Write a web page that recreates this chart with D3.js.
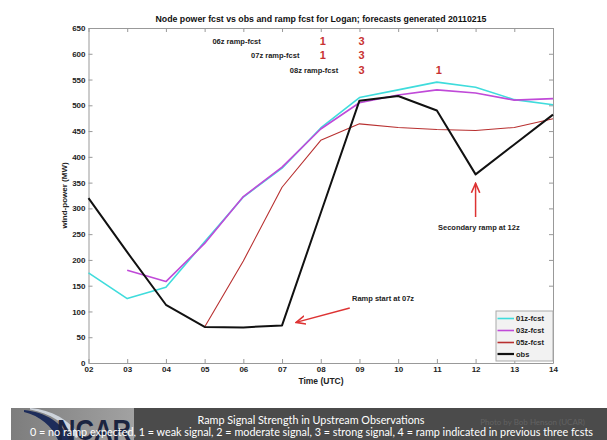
<!DOCTYPE html>
<html>
<head>
<meta charset="utf-8">
<script src="https://cdn.jsdelivr.net/npm/d3@7"></script>
<style>
  body { margin: 0; background: #fff; }
  svg text { font-family: "Liberation Sans", Arial, sans-serif; }
</style>
</head>
<body>
<div id="chart"></div>
<script>
// hours on the x axis and what the reference prints for them
const hours = [2, 3, 4, 5, 6, 7, 8, 9, 10, 11, 12, 13, 14];
const hourLabels = ["02", "03", "04", "05", "06", "07", "08", "09", "10", "11", "12", "13", "14"];
const yTicks = [0, 50, 100, 150, 200, 250, 300, 350, 400, 450, 500, 550, 600, 650];

// series (MW)
const fcst01 = [175, 125, 147, 235, 322, 378, 456, 515, 530, 545, 535, 511, 501];
const fcst03 = [null, 180, 158, 232, 323, 380, 454, 505, 520, 530, 524, 510, 513];
const fcst05 = [null, null, null, 70, 198, 341, 432, 464, 457, 453, 451, 457, 474];
const obs = [320, 215, 113, 70, 69, 73, 291, 509, 518, 490, 366, 424, 482];

const seriesNames = ["01z-fcst", "03z-fcst", "05z-fcst", "obs"];
const seriesColors = ["#3fdcdc", "#c04ad8", "#b83030", "#111111"];
const seriesWidths = [1.6, 1.6, 1.1, 2];

// ramp forecasts: issue hour, and the signal strength shown above some hours
const rampLabels = ["06z ramp-fcst", "07z ramp-fcst", "08z ramp-fcst"];
const rampIssue = [6, 7, 8];
const rampHours = [[8, 9], [8, 9], [9, 11]];
const rampValues = [[1, 3], [1, 3], [3, 1]];

const width = 607, height = 440;

const svg = d3.select("#chart").append("svg")
    .attr("width", width)
    .attr("height", height);

const x = d3.scaleLinear().domain([2, 14]).range([88.5, 553]);
const y = d3.scaleLinear().domain([0, 650]).range([363, 28]);

// title
svg.append("text")
    .attr("x", 321).attr("y", 22)
    .attr("text-anchor", "middle")
    .attr("font-size", 9).attr("font-weight", "bold")
    .attr("fill", "#111")
    .attr("textLength", 331).attr("lengthAdjust", "spacingAndGlyphs")
    .text("Node power fcst vs obs and ramp fcst for Logan; forecasts generated 20110215");

// axes, MATLAB style: box all round, ticks pointing in
const axisColor = "#999";
function styleAxis(g) {
    g.select(".domain").attr("stroke", axisColor);
    g.selectAll(".tick line").attr("stroke", axisColor);
    g.selectAll(".tick text")
        .attr("fill", "#222")
        .attr("font-size", 8)
        .attr("font-weight", "bold")
        .style("font-family", "'Liberation Sans', Arial, sans-serif");
}

svg.append("g")
    .attr("transform", "translate(0," + y(0) + ")")
    .call(d3.axisBottom(x).tickValues(hours).tickFormat((d, i) => hourLabels[i])
        .tickSizeInner(-4).tickSizeOuter(0).tickPadding(3))
    .call(styleAxis);

svg.append("g")
    .attr("transform", "translate(0," + y(650) + ")")
    .call(d3.axisTop(x).tickValues(hours).tickFormat("")
        .tickSizeInner(-4).tickSizeOuter(0))
    .call(styleAxis);

svg.append("g")
    .attr("transform", "translate(" + x(2) + ",0)")
    .call(d3.axisLeft(y).tickValues(yTicks).tickFormat(d3.format("d"))
        .tickSizeInner(-4).tickSizeOuter(0).tickPadding(3))
    .call(styleAxis);

svg.append("g")
    .attr("transform", "translate(" + x(14) + ",0)")
    .call(d3.axisRight(y).tickValues(yTicks).tickFormat("")
        .tickSizeInner(-4).tickSizeOuter(0))
    .call(styleAxis);

// axis titles
svg.append("text")
    .attr("x", 321).attr("y", 384)
    .attr("text-anchor", "middle")
    .attr("font-size", 8.5).attr("font-weight", "bold").attr("fill", "#222")
    .text("Time (UTC)");

svg.append("text")
    .attr("transform", "translate(67," + (y(325)) + ") rotate(-90)")
    .attr("text-anchor", "middle")
    .attr("font-size", 8).attr("font-weight", "bold").attr("fill", "#222")
    .text("wind-power (MW)");

// lines
const allSeries = [fcst01, fcst03, fcst05, obs];
const line = d3.line()
    .defined(d => d[1] != null)
    .x(d => x(d[0]))
    .y(d => y(d[1]));

allSeries.forEach(function (s, i) {
    svg.append("path")
        .datum(hours.map((h, j) => [h, s[j]]))
        .attr("d", line)
        .attr("fill", "none")
        .attr("stroke", seriesColors[i])
        .attr("stroke-width", seriesWidths[i])
        .attr("stroke-linejoin", "round");
});

// ramp forecast rows
const rowY = [41, 55.5, 70];
rampLabels.forEach(function (lab, i) {
    svg.append("text")
        .attr("x", x(rampIssue[i] + 0.45)).attr("y", rowY[i])
        .attr("dy", "0.35em")
        .attr("text-anchor", "end")
        .attr("font-size", 7.5).attr("font-weight", "bold").attr("fill", "#222")
        .text(lab);
    rampHours[i].forEach(function (h, j) {
        svg.append("text")
            .attr("x", x(h) + 2).attr("y", rowY[i])
            .attr("dy", "0.36em")
            .attr("text-anchor", "middle")
            .attr("font-size", 11).attr("font-weight", "bold").attr("fill", "#c83232")
            .text(rampValues[i][j]);
    });
});

// annotations
const defs = svg.append("defs");
defs.append("marker")
    .attr("id", "head")
    .attr("viewBox", "0 0 10 10")
    .attr("refX", 9).attr("refY", 5)
    .attr("markerWidth", 7).attr("markerHeight", 7)
    .attr("orient", "auto-start-reverse")
    .append("path")
    .attr("d", "M0,1 L9,5 L0,9")
    .attr("fill", "none")
    .attr("stroke", "#d33")
    .attr("stroke-width", 1.5);

svg.append("line")
    .attr("x1", x(8.75)).attr("y1", 308)
    .attr("x2", x(7) + 14).attr("y2", y(obs[5]) - 3)
    .attr("stroke", "#d33").attr("stroke-width", 1.5)
    .attr("marker-end", "url(#head)");

svg.append("text")
    .attr("x", 352).attr("y", 298)
    .attr("dy", "0.35em")
    .attr("font-size", 7.5).attr("font-weight", "bold").attr("fill", "#222")
    .text("Ramp start at 07z");

svg.append("line")
    .attr("x1", x(12)).attr("y1", 217)
    .attr("x2", x(12)).attr("y2", y(obs[10]) + 9)
    .attr("stroke", "#d33").attr("stroke-width", 1.5)
    .attr("marker-end", "url(#head)");

svg.append("text")
    .attr("x", 438).attr("y", 227)
    .attr("dy", "0.35em")
    .attr("font-size", 7.5).attr("font-weight", "bold").attr("fill", "#222")
    .text("Secondary ramp at 12z");

// legend
const leg = svg.append("g");
leg.append("rect")
    .attr("x", 496).attr("y", 311)
    .attr("width", 57).attr("height", 50)
    .attr("fill", "#f2f2f2").attr("stroke", "#aaa");
const legY = [318.5, 330.5, 342.5, 354];
seriesNames.forEach(function (n, i) {
    leg.append("line")
        .attr("x1", 497.5).attr("x2", 514)
        .attr("y1", legY[i]).attr("y2", legY[i])
        .attr("stroke", seriesColors[i])
        .attr("stroke-width", i == 3 ? 2.2 : 1.6);
    leg.append("text")
        .attr("x", 516).attr("y", legY[i])
        .attr("dy", "0.35em")
        .attr("font-size", 7.5).attr("font-weight", "bold").attr("fill", "#222")
        .text(n);
});

// NCAR banner at the bottom
const grad = defs.append("linearGradient").attr("id", "logoBg")
    .attr("x1", "0").attr("x2", "1").attr("y1", "0").attr("y2", "0");
grad.append("stop").attr("offset", "0").attr("stop-color", "#7d7d7d");
grad.append("stop").attr("offset", "1").attr("stop-color", "#a2a2a2");

svg.append("rect")
    .attr("x", 11).attr("y", 408).attr("width", width - 11).attr("height", 32)
    .attr("fill", "#4b4b4b");
svg.append("rect")
    .attr("x", 11).attr("y", 408).attr("width", 123).attr("height", 32)
    .attr("fill", "url(#logoBg)");

// swoosh
svg.append("path")
    .attr("d", "M24,410 C45,412 62,422 70,440 L58,440 C52,426 40,416 24,412 Z")
    .attr("fill", "#1d2c5a");
svg.append("path")
    .attr("d", "M30,408 C52,410 70,420 80,436 L76,438 C66,424 50,413 30,409.5 Z")
    .attr("fill", "#dfe6f0").attr("opacity", 0.8);

svg.append("text")
    .attr("x", 57).attr("y", 440)
    .attr("font-size", 30).attr("font-weight", "bold")
    .attr("fill", "#1b2440")
    .attr("textLength", 74).attr("lengthAdjust", "spacingAndGlyphs")
    .text("NCAR");

svg.append("text")
    .attr("x", 585).attr("y", 425)
    .attr("text-anchor", "end")
    .attr("font-size", 8)
    .style("font-family", "Lato, 'Open Sans', sans-serif")
    .attr("fill", "#626262")
    .text("Photo by Bob Henson (UCAR)");

svg.append("text")
    .attr("x", 311).attr("y", 424)
    .attr("text-anchor", "middle")
    .attr("font-size", 10.5)
    .style("font-family", "Lato, 'Open Sans', sans-serif")
    .attr("fill", "#fff")
    .attr("textLength", 227).attr("lengthAdjust", "spacingAndGlyphs")
    .text("Ramp Signal Strength in Upstream Observations");

svg.append("text")
    .attr("x", 30).attr("y", 436)
    .attr("font-size", 10.5)
    .style("font-family", "Lato, 'Open Sans', sans-serif")
    .attr("fill", "#fff")
    .attr("textLength", 563).attr("lengthAdjust", "spacingAndGlyphs")
    .text("0 = no ramp expected, 1 = weak signal, 2 = moderate signal, 3 = strong signal, 4 = ramp indicated in previous three fcsts");
</script>
</body>
</html>
